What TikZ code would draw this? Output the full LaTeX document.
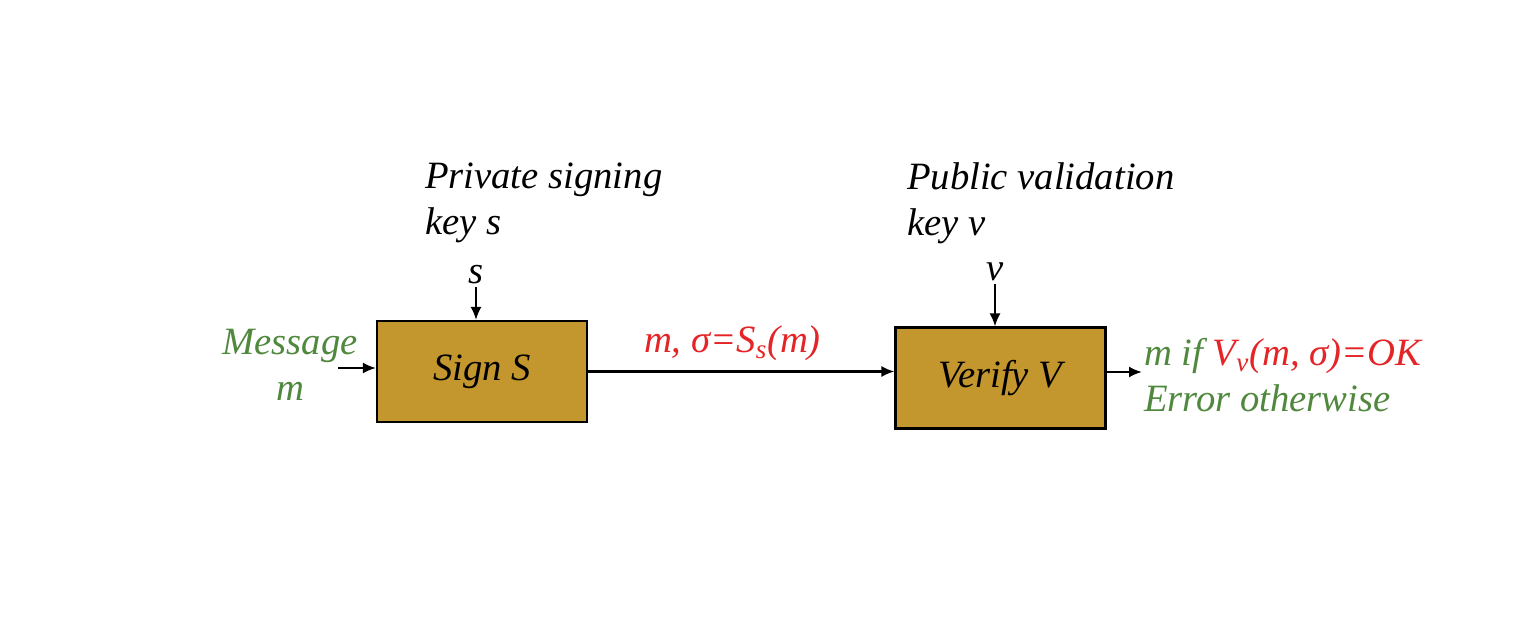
\documentclass[tikz,border=0pt]{standalone}
\usepackage{fontspec}
\setmainfont{Liberation Serif}
\usetikzlibrary{arrows.meta}
\definecolor{moutarde}{RGB}{196,150,46}
\definecolor{vert}{RGB}{80,136,62}
\definecolor{rouge}{RGB}{228,36,38}
\begin{document}
\begin{tikzpicture}[
       line width=1.2pt,
       font=\fontsize{22}{26}\selectfont\itshape,
       >={Latex[length=2.6mm,width=2.2mm]},
       boite/.style={
         rectangle,
         draw=black,
         fill=moutarde,
         line width=1.2pt,
         minimum width=4.2cm,
         minimum height=2.02cm
       },
       texte/.style={
         inner sep=0pt,
         align=left
       }
     ]

       \useasboundingbox (0,0) rectangle (30.76,12.4);

       \node (sign) at (9.64,4.97) [boite]{Sign S};
       \node (verify) at (20.01,4.84) [boite]{Verify V};

       \node (cles) at (8.48,9.16) [texte,anchor=north west]{Private signing\\key s};
       \node (clev) at (18.12,9.16) [texte,anchor=north west]{Public validation\\key v};

       \node (s) at (9.52,6.9) [inner sep=1pt]{s};
       \node (v) at (19.9,6.96) [inner sep=1pt]{v};

       \node (msg) at (5.8,5.1) [texte,align=center,text=vert]{Message\\m};
       \coordinate (entree) at (6.76,5.04);
       \coordinate (sortie) at (22.84,4.96);

       \node (res) at (22.86,4.9) [texte,anchor=west,text=vert]{m if \textcolor{rouge}{V\textsubscript{v}(m, σ)=OK}\\Error otherwise};

       \draw[->] (s) -- (s |- sign.north);
       \draw[->] (v) -- (v |- verify.north);
       \draw[->] (entree) -- (entree -| sign.west);
       \draw[->] (sign.east) -- (sign.east -| verify.west)
         node[midway,above=2pt,text=rouge,xshift=-5pt]{m, σ=S\textsubscript{s}(m)};
       \draw[->] (sortie -| verify.east) -- (sortie);

\end{tikzpicture}
\end{document}
